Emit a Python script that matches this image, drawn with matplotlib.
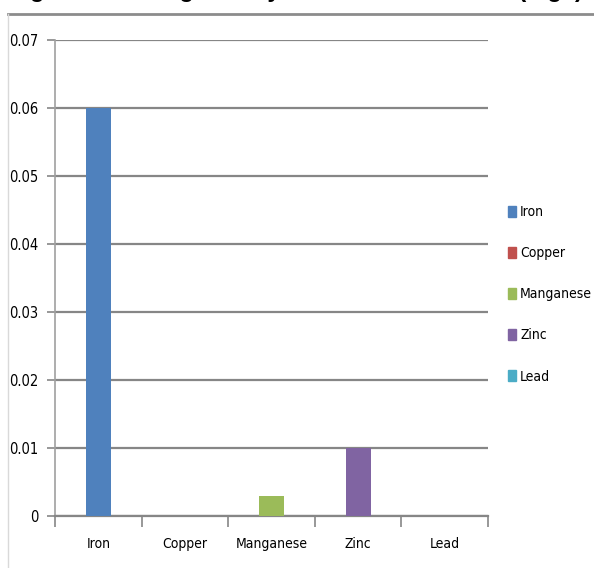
import numpy as np
from matplotlib import pyplot as plt
from matplotlib.lines import Line2D
from matplotlib.patches import Patch

metals = ['Iron', 'Copper', 'Manganese', 'Zinc', 'Lead']
values = [0.06, 0.0, 0.003, 0.01, 0.0]
colors = ['#4F81BD', '#C0504D', '#9BBB59', '#8064A2', '#4BACC6']
yticks = [0, 0.01, 0.02, 0.03, 0.04, 0.05, 0.06, 0.07]
ytick_labels = ['0', '0.01', '0.02', '0.03', '0.04', '0.05', '0.06', '0.07']

plt.rcParams['font.family'] = ['DejaVu Sans']
plt.rcParams['font.stretch'] = 'condensed'
plt.rcParams['font.size'] = 10.5

fig = plt.figure(figsize=(5.94, 5.68), dpi=100)
ax = fig.add_axes([0.0926, 0.0915, 0.729, 0.838])

x = np.arange(len(metals))
ax.bar(x, values, width=0.29, color=colors, zorder=3)

ax.set_xlim(-0.5, len(metals) - 0.5)
ax.set_ylim(0, 0.07)
ax.set_yticks(yticks)
ax.set_yticklabels(ytick_labels, fontsize=10.5)
ax.yaxis.grid(True, color='#868686', linewidth=1.6, zorder=0)

ax.set_xticks(x)
ax.set_xticklabels(metals, fontsize=10)
ax.set_xticks(np.arange(-0.5, len(metals)), minor=True)
ax.tick_params(axis='x', which='major', length=0, pad=15)
ax.tick_params(axis='x', which='minor', length=8, width=1.2, color='#868686')
ax.tick_params(axis='y', length=6, width=1.2, color='#868686', pad=6)

for s in ['top', 'right']:
    ax.spines[s].set_visible(False)
ax.spines['left'].set_color('#a0a0a0')
ax.spines['left'].set_linewidth(1.2)
ax.spines['bottom'].set_color('#868686')
ax.spines['bottom'].set_linewidth(1.6)

handles = [Patch(color=c) for c in colors]
fig.legend(handles, metals, loc='upper left', bbox_to_anchor=(0.843, 0.651),
           frameon=False, fontsize=10, handlelength=0.6, handleheight=0.8,
           handletextpad=0.3, labelspacing=1.95, borderpad=0)

# frame of the pasted chart and the clipped caption above it
fig.add_artist(Line2D([8 / 594, 1], [1 - 14 / 568] * 2, color='#8c8c8c', lw=2))
fig.add_artist(Line2D([8 / 594] * 2, [0, 1 - 14 / 568], color='#d9d9d9', lw=1))
fig.text(0.015, 1.0 + 3 / 568, 'Figure 4: Average heavy metal concentration (mg/l)',
         fontsize=17, fontweight='bold', family='Liberation Sans', va='baseline')

fig.savefig('out.png', dpi=100)
